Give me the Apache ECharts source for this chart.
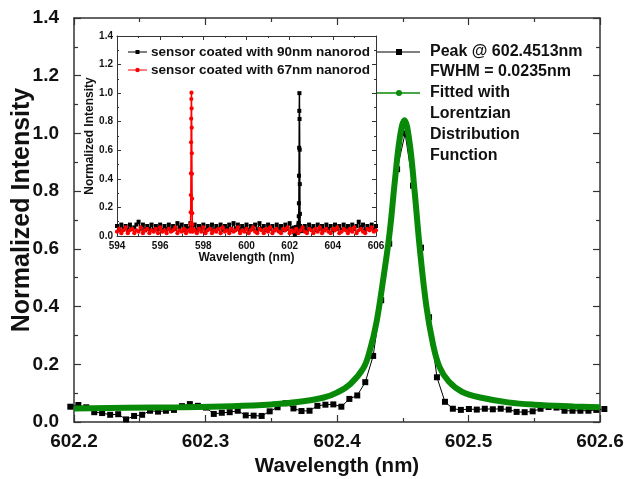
<!DOCTYPE html>
<html>
<head>
<meta charset="utf-8">
<script src="https://cdn.jsdelivr.net/npm/echarts@6/dist/echarts.min.js"></script>
<style>
html,body{margin:0;padding:0;background:#fff;}
#chart{width:629px;height:479px;}
</style>
</head>
<body>
<div id="chart"></div>
<script>
// ---- Main plot: measured spectrum (black squares) ----
const mainX = [602.1972,602.2033,602.2093,602.2154,602.2214,602.2275,602.2336,602.2396,602.2457,602.2518,
602.2578,602.2639,602.2699,602.2760,602.2821,602.2881,602.2942,602.3003,602.3063,602.3124,
602.3184,602.3245,602.3306,602.3366,602.3427,602.3488,602.3548,602.3609,602.3669,602.3730,
602.3791,602.3851,602.3912,602.3972,602.4033,602.4094,602.4154,602.4215,602.4275,602.4336,
602.4397,602.4457,602.4518,602.4578,602.4639,602.4700,602.4760,602.4821,602.4881,602.4942,
602.5003,602.5063,602.5124,602.5185,602.5245,602.5306,602.5366,602.5427,602.5488,602.5548,
602.5609,602.5669,602.5730,602.5791,602.5851,602.5912,602.5972,602.6033];
const mainY = [0.053,0.059,0.051,0.034,0.031,0.025,0.027,0.009,0.021,0.025,
0.039,0.036,0.039,0.042,0.055,0.062,0.056,0.050,0.028,0.032,
0.034,0.039,0.023,0.022,0.021,0.037,0.051,0.065,0.047,0.038,
0.039,0.056,0.060,0.061,0.053,0.080,0.092,0.138,0.229,0.422,
0.618,0.876,1.000,0.819,0.604,0.363,0.155,0.070,0.046,0.042,
0.045,0.043,0.046,0.044,0.046,0.043,0.035,0.034,0.037,0.046,
0.052,0.050,0.039,0.039,0.039,0.039,0.042,0.045];

// ---- Main plot: fitted Lorentzian curve (green) ----
const fitX = [602.20,602.24,602.28,602.32,602.35,602.37,602.39,602.40,602.41,602.42,
602.425,602.43,602.435,602.44,602.444,602.448,602.4513,602.455,602.459,602.463,
602.468,602.473,602.478,602.485,602.495,602.51,602.53,602.55,602.58,602.60];
const fitY = [0.047,0.049,0.051,0.055,0.061,0.069,0.085,0.102,0.131,0.186,
0.248,0.345,0.490,0.655,0.835,0.992,1.046,0.975,0.800,0.600,
0.400,0.270,0.190,0.140,0.105,0.084,0.068,0.060,0.054,0.051];

// ---- Inset: 90 nm nanorod sensor (black), baseline outside the main window ----
const insetBlackLeftX = [594.0,594.1,594.2,594.3,594.4,594.5,594.6,594.7,594.8,594.9,
595.0,595.1,595.2,595.3,595.4,595.5,595.6,595.7,595.8,595.9,
596.0,596.1,596.2,596.3,596.4,596.5,596.6,596.7,596.8,596.9,
597.0,597.1,597.2,597.3,597.4,597.5,597.6,597.7,597.8,597.9,
598.0,598.1,598.2,598.3,598.4,598.5,598.6,598.7,598.8,598.9,
599.0,599.1,599.2,599.3,599.4,599.5,599.6,599.7,599.8,599.9,
600.0,600.1,600.2,600.3,600.4,600.5,600.6,600.7,600.8,600.9,
601.0,601.1,601.2,601.3,601.4,601.5,601.6,601.7,601.8,601.9,
602.0,602.1];
const insetBlackLeftY = [0.07,0.04,0.08,0.05,0.07,0.04,0.08,0.05,0.06,0.08,
0.10,0.05,0.08,0.04,0.07,0.05,0.08,0.04,0.07,0.05,
0.08,0.04,0.07,0.05,0.08,0.04,0.07,0.05,0.09,0.06,
0.08,0.04,0.07,0.05,0.09,0.06,0.08,0.04,0.07,0.05,
0.08,0.04,0.07,0.05,0.08,0.04,0.07,0.05,0.08,0.04,
0.07,0.05,0.08,0.04,0.09,0.05,0.08,0.04,0.07,0.05,
0.08,0.04,0.07,0.05,0.08,0.04,0.09,0.05,0.07,0.04,
0.08,0.05,0.07,0.04,0.08,0.05,0.07,0.04,0.08,0.05,
0.09,0.05];
const insetBlackRightX = [602.7,602.8,602.9,603.0,603.1,603.2,603.3,603.4,603.5,603.6,
603.7,603.8,603.9,604.0,604.1,604.2,604.3,604.4,604.5,604.6,
604.7,604.8,604.9,605.0,605.1,605.2,605.3,605.4,605.5,605.6,
605.7,605.8,605.9,606.0];
const insetBlackRightY = [0.07,0.04,0.08,0.05,0.07,0.04,0.08,0.05,0.07,0.04,
0.08,0.05,0.07,0.04,0.08,0.05,0.07,0.04,0.08,0.05,
0.07,0.04,0.08,0.05,0.07,0.10,0.06,0.08,0.04,0.07,
0.05,0.08,0.04,0.07];

// ---- Inset: 67 nm nanorod sensor (red) ----
const insetRedLeftX = [594.0,594.1,594.2,594.3,594.4,594.5,594.6,594.7,594.8,594.9,
595.0,595.1,595.2,595.3,595.4,595.5,595.6,595.7,595.8,595.9,
596.0,596.1,596.2,596.3,596.4,596.5,596.6,596.7,596.8,596.9,
597.0,597.1,597.2,597.3];
const insetRedLeftY = [0.03,0.05,0.02,0.04,0.06,0.02,0.04,0.05,0.02,0.04,
0.03,0.06,0.02,0.04,0.05,0.02,0.04,0.03,0.05,0.02,
0.06,0.03,0.04,0.02,0.05,0.03,0.04,0.06,0.02,0.04,
0.03,0.05,0.02,0.04];
const insetRedPeakX = [597.396,597.402,597.408,597.414,597.420,597.426,597.432,597.438,597.444,597.450,
597.456,597.462,597.468,597.474,597.480,597.486,597.492,597.498,597.504];
const insetRedPeakY = [0.030,0.045,0.084,0.166,0.287,0.438,0.656,0.821,0.959,1.003,
0.893,0.758,0.579,0.435,0.261,0.160,0.080,0.050,0.030];
const insetRedRightX = [597.6,597.7,597.8,597.9,598.0,598.1,598.2,598.3,598.4,598.5,
598.6,598.7,598.8,598.9,599.0,599.1,599.2,599.3,599.4,599.5,
599.6,599.7,599.8,599.9,600.0,600.1,600.2,600.3,600.4,600.5,
600.6,600.7,600.8,600.9,601.0,601.1,601.2,601.3,601.4,601.5,
601.6,601.7,601.8,601.9,602.0,602.1,602.2,602.3,602.4,602.5,
602.6,602.7,602.8,602.9,603.0,603.1,603.2,603.3,603.4,603.5,
603.6,603.7,603.8,603.9,604.0,604.1,604.2,604.3,604.4,604.5,
604.6,604.7,604.8,604.9,605.0,605.1,605.2,605.3,605.4,605.5,
605.6,605.7,605.8,605.9,606.0];
const insetRedRightY = [0.04,0.02,0.05,0.03,0.06,0.02,0.04,0.05,0.02,0.04,
0.03,0.05,0.02,0.06,0.03,0.04,0.02,0.05,0.03,0.04,
0.06,0.02,0.04,0.03,0.05,0.02,0.04,0.06,0.03,0.02,
0.05,0.04,0.02,0.05,0.03,0.06,0.02,0.04,0.05,0.03,
0.02,0.05,0.04,0.06,0.02,0.04,0.03,0.05,0.02,0.04,
0.06,0.03,0.02,0.05,0.04,0.02,0.05,0.03,0.06,0.02,
0.04,0.05,0.03,0.02,0.05,0.04,0.06,0.02,0.03,0.05,
0.04,0.02,0.05,0.03,0.06,0.02,0.04,0.05,0.03,0.02,
0.05,0.04,0.06,0.03,0.04];

// ---- Text labels ----
const mainXTitle = 'Wavelength (nm)';
const mainYTitle = 'Normalized Intensity';
const insetXTitle = 'Wavelength (nm)';
const insetYTitle = 'Normalized Intensity';
const legendMain = ['Peak @ 602.4513nm', 'FWHM = 0.0235nm'];
const legendFit = ['Fitted with', 'Lorentzian', 'Distribution', 'Function'];
const legendInset = ['sensor coated with 90nm nanorod', 'sensor coated with 67nm nanorod'];

const zip = (xs, ys) => xs.map((x, i) => [x, ys[i]]);
const FONT = 'Liberation Sans, Arial, Helvetica, sans-serif';
const GREEN = '#088a08';
const AX = '#333';

function axisBase(opts) {
  return Object.assign({
    type: 'value',
    nameMoveOverlap: false,
    axisLine: { show: true, onZero: false, lineStyle: { color: AX, width: 1.5 } },
    axisTick: { show: true, inside: true, length: 7, lineStyle: { color: AX, width: 1.2 } },
    minorTick: { show: true, splitNumber: 2, length: 4, lineStyle: { color: AX, width: 1.2 } },
    splitLine: { show: false },
    axisLabel: { show: false }
  }, opts);
}

const chart = echarts.init(document.getElementById('chart'), null, { renderer: 'canvas' });

const insetTick = { show: true, inside: true, length: 4, lineStyle: { color: AX, width: 1 } };
const insetMinor = { show: true, splitNumber: 2, length: 2, lineStyle: { color: AX, width: 1 } };
const insetLine = { show: true, onZero: false, lineStyle: { color: AX, width: 1 } };
const TXT = '#111';

const option = {
  backgroundColor: '#fff',
  animation: false,
  grid: [
    { left: 74, top: 18, width: 526, height: 404, outerBoundsMode: 'none', containLabel: false },
    { left: 117, top: 36, width: 259, height: 200, outerBoundsMode: 'none', containLabel: false,
      show: true, backgroundColor: '#fff', borderWidth: 0 }
  ],
  xAxis: [
    axisBase({ gridIndex: 0, position: 'bottom', min: 602.2, max: 602.6, interval: 0.1,
      axisLabel: { show: true, margin: 10, formatter: v => v.toFixed(1), fontFamily: FONT,
        fontWeight: 'bold', fontSize: 19, color: TXT },
      name: mainXTitle, nameLocation: 'middle', nameGap: 34,
      nameTextStyle: { fontFamily: FONT, fontWeight: 'bold', fontSize: 20.5, color: TXT } }),
    axisBase({ gridIndex: 0, position: 'top', min: 602.2, max: 602.6, interval: 0.1 }),
    { type: 'value', gridIndex: 1, position: 'bottom', min: 594, max: 606, interval: 2, nameMoveOverlap: false,
      axisLine: insetLine, axisTick: insetTick, minorTick: insetMinor, splitLine: { show: false },
      axisLabel: { show: true, margin: 5, fontFamily: FONT, fontWeight: 'bold', fontSize: 10, color: TXT },
      name: insetXTitle, nameLocation: 'middle', nameGap: 16,
      nameTextStyle: { fontFamily: FONT, fontWeight: 'bold', fontSize: 12, color: TXT } },
    { type: 'value', gridIndex: 1, position: 'top', min: 594, max: 606, interval: 2,
      axisLine: insetLine, axisTick: insetTick, minorTick: insetMinor, splitLine: { show: false },
      axisLabel: { show: false } }
  ],
  yAxis: [
    axisBase({ gridIndex: 0, position: 'left', min: 0, max: 1.4, interval: 0.2,
      axisLabel: { show: true, margin: 15, formatter: v => v.toFixed(1), fontFamily: FONT,
        fontWeight: 'bold', fontSize: 19, color: TXT },
      name: mainYTitle, nameLocation: 'middle', nameGap: 39,
      nameTextStyle: { fontFamily: FONT, fontWeight: 'bold', fontSize: 25, color: TXT, padding: [0, 0, 0, 20] } }),
    axisBase({ gridIndex: 0, position: 'right', min: 0, max: 1.4, interval: 0.2 }),
    { type: 'value', gridIndex: 1, position: 'left', min: 0, max: 1.4, interval: 0.2, nameMoveOverlap: false,
      axisLine: insetLine, axisTick: insetTick, minorTick: insetMinor, splitLine: { show: false },
      axisLabel: { show: true, margin: 4, formatter: v => v.toFixed(1), fontFamily: FONT,
        fontWeight: 'bold', fontSize: 10, color: TXT },
      name: insetYTitle, nameLocation: 'middle', nameGap: 21,
      nameTextStyle: { fontFamily: FONT, fontWeight: 'bold', fontSize: 12, color: TXT } },
    { type: 'value', gridIndex: 1, position: 'right', min: 0, max: 1.4, interval: 0.2,
      axisLine: insetLine, axisTick: insetTick, minorTick: insetMinor, splitLine: { show: false },
      axisLabel: { show: false } }
  ],
  series: [
    { name: 'measured', type: 'line', xAxisIndex: 0, yAxisIndex: 0, data: zip(mainX, mainY),
      symbol: 'rect', symbolSize: 6, clip: false, z: 2,
      lineStyle: { color: '#000', width: 1 }, itemStyle: { color: '#000' } },
    { name: 'fit', type: 'line', xAxisIndex: 0, yAxisIndex: 0, data: zip(fitX, fitY),
      showSymbol: false, smooth: 0.4, z: 3, clip: false,
      lineStyle: { color: GREEN, width: 6 } },
    { name: '90nm', type: 'line', xAxisIndex: 2, yAxisIndex: 2,
      data: zip(insetBlackLeftX, insetBlackLeftY).concat(zip(mainX, mainY), zip(insetBlackRightX, insetBlackRightY)),
      symbol: 'rect', symbolSize: 4, z: 6, clip: true,
      lineStyle: { color: '#000', width: 1.5 }, itemStyle: { color: '#000' } },
    { name: '67nm', type: 'line', xAxisIndex: 2, yAxisIndex: 2,
      data: zip(insetRedLeftX, insetRedLeftY).concat(zip(insetRedPeakX, insetRedPeakY), zip(insetRedRightX, insetRedRightY)),
      symbol: 'circle', symbolSize: 4.2, z: 7, clip: true,
      lineStyle: { color: '#ff0000', width: 1.5 }, itemStyle: { color: '#ff0000' } }
  ],
  graphic: [
    // main legend
    { type: 'line', z: 20, shape: { x1: 377, y1: 52, x2: 420, y2: 52 }, style: { stroke: '#000', lineWidth: 1 } },
    { type: 'rect', z: 20, shape: { x: 396, y: 49, width: 6, height: 6 }, style: { fill: '#000' } },
    { type: 'text', z: 20, style: { text: legendMain[0], x: 430, y: 52, verticalAlign: 'middle', font: 'bold 16px ' + FONT, fill: TXT } },
    { type: 'text', z: 20, style: { text: legendMain[1], x: 430, y: 72, verticalAlign: 'middle', font: 'bold 16px ' + FONT, fill: TXT } },
    { type: 'line', z: 20, shape: { x1: 377, y1: 93, x2: 420, y2: 93 }, style: { stroke: GREEN, lineWidth: 1.5 } },
    { type: 'circle', z: 20, shape: { cx: 399, cy: 93, r: 3 }, style: { fill: GREEN } },
    { type: 'text', z: 20, style: { text: legendFit[0], x: 430, y: 93, verticalAlign: 'middle', font: 'bold 16px ' + FONT, fill: TXT } },
    { type: 'text', z: 20, style: { text: legendFit[1], x: 430, y: 114, verticalAlign: 'middle', font: 'bold 16px ' + FONT, fill: TXT } },
    { type: 'text', z: 20, style: { text: legendFit[2], x: 430, y: 135, verticalAlign: 'middle', font: 'bold 16px ' + FONT, fill: TXT } },
    { type: 'text', z: 20, style: { text: legendFit[3], x: 430, y: 156, verticalAlign: 'middle', font: 'bold 16px ' + FONT, fill: TXT } },
    // inset legend
    { type: 'line', z: 20, shape: { x1: 128, y1: 52, x2: 147, y2: 52 }, style: { stroke: '#000', lineWidth: 1 } },
    { type: 'rect', z: 20, shape: { x: 135.5, y: 50, width: 4, height: 4 }, style: { fill: '#000' } },
    { type: 'text', z: 20, style: { text: legendInset[0], x: 151, y: 52, verticalAlign: 'middle', font: 'bold 13.5px ' + FONT, fill: TXT } },
    { type: 'line', z: 20, shape: { x1: 128, y1: 70, x2: 147, y2: 70 }, style: { stroke: '#ff0000', lineWidth: 1 } },
    { type: 'circle', z: 20, shape: { cx: 137.5, cy: 70, r: 2.2 }, style: { fill: '#ff0000' } },
    { type: 'text', z: 20, style: { text: legendInset[1], x: 151, y: 70, verticalAlign: 'middle', font: 'bold 13.5px ' + FONT, fill: TXT } }
  ]
};
chart.setOption(option);
</script>
</body>
</html>
